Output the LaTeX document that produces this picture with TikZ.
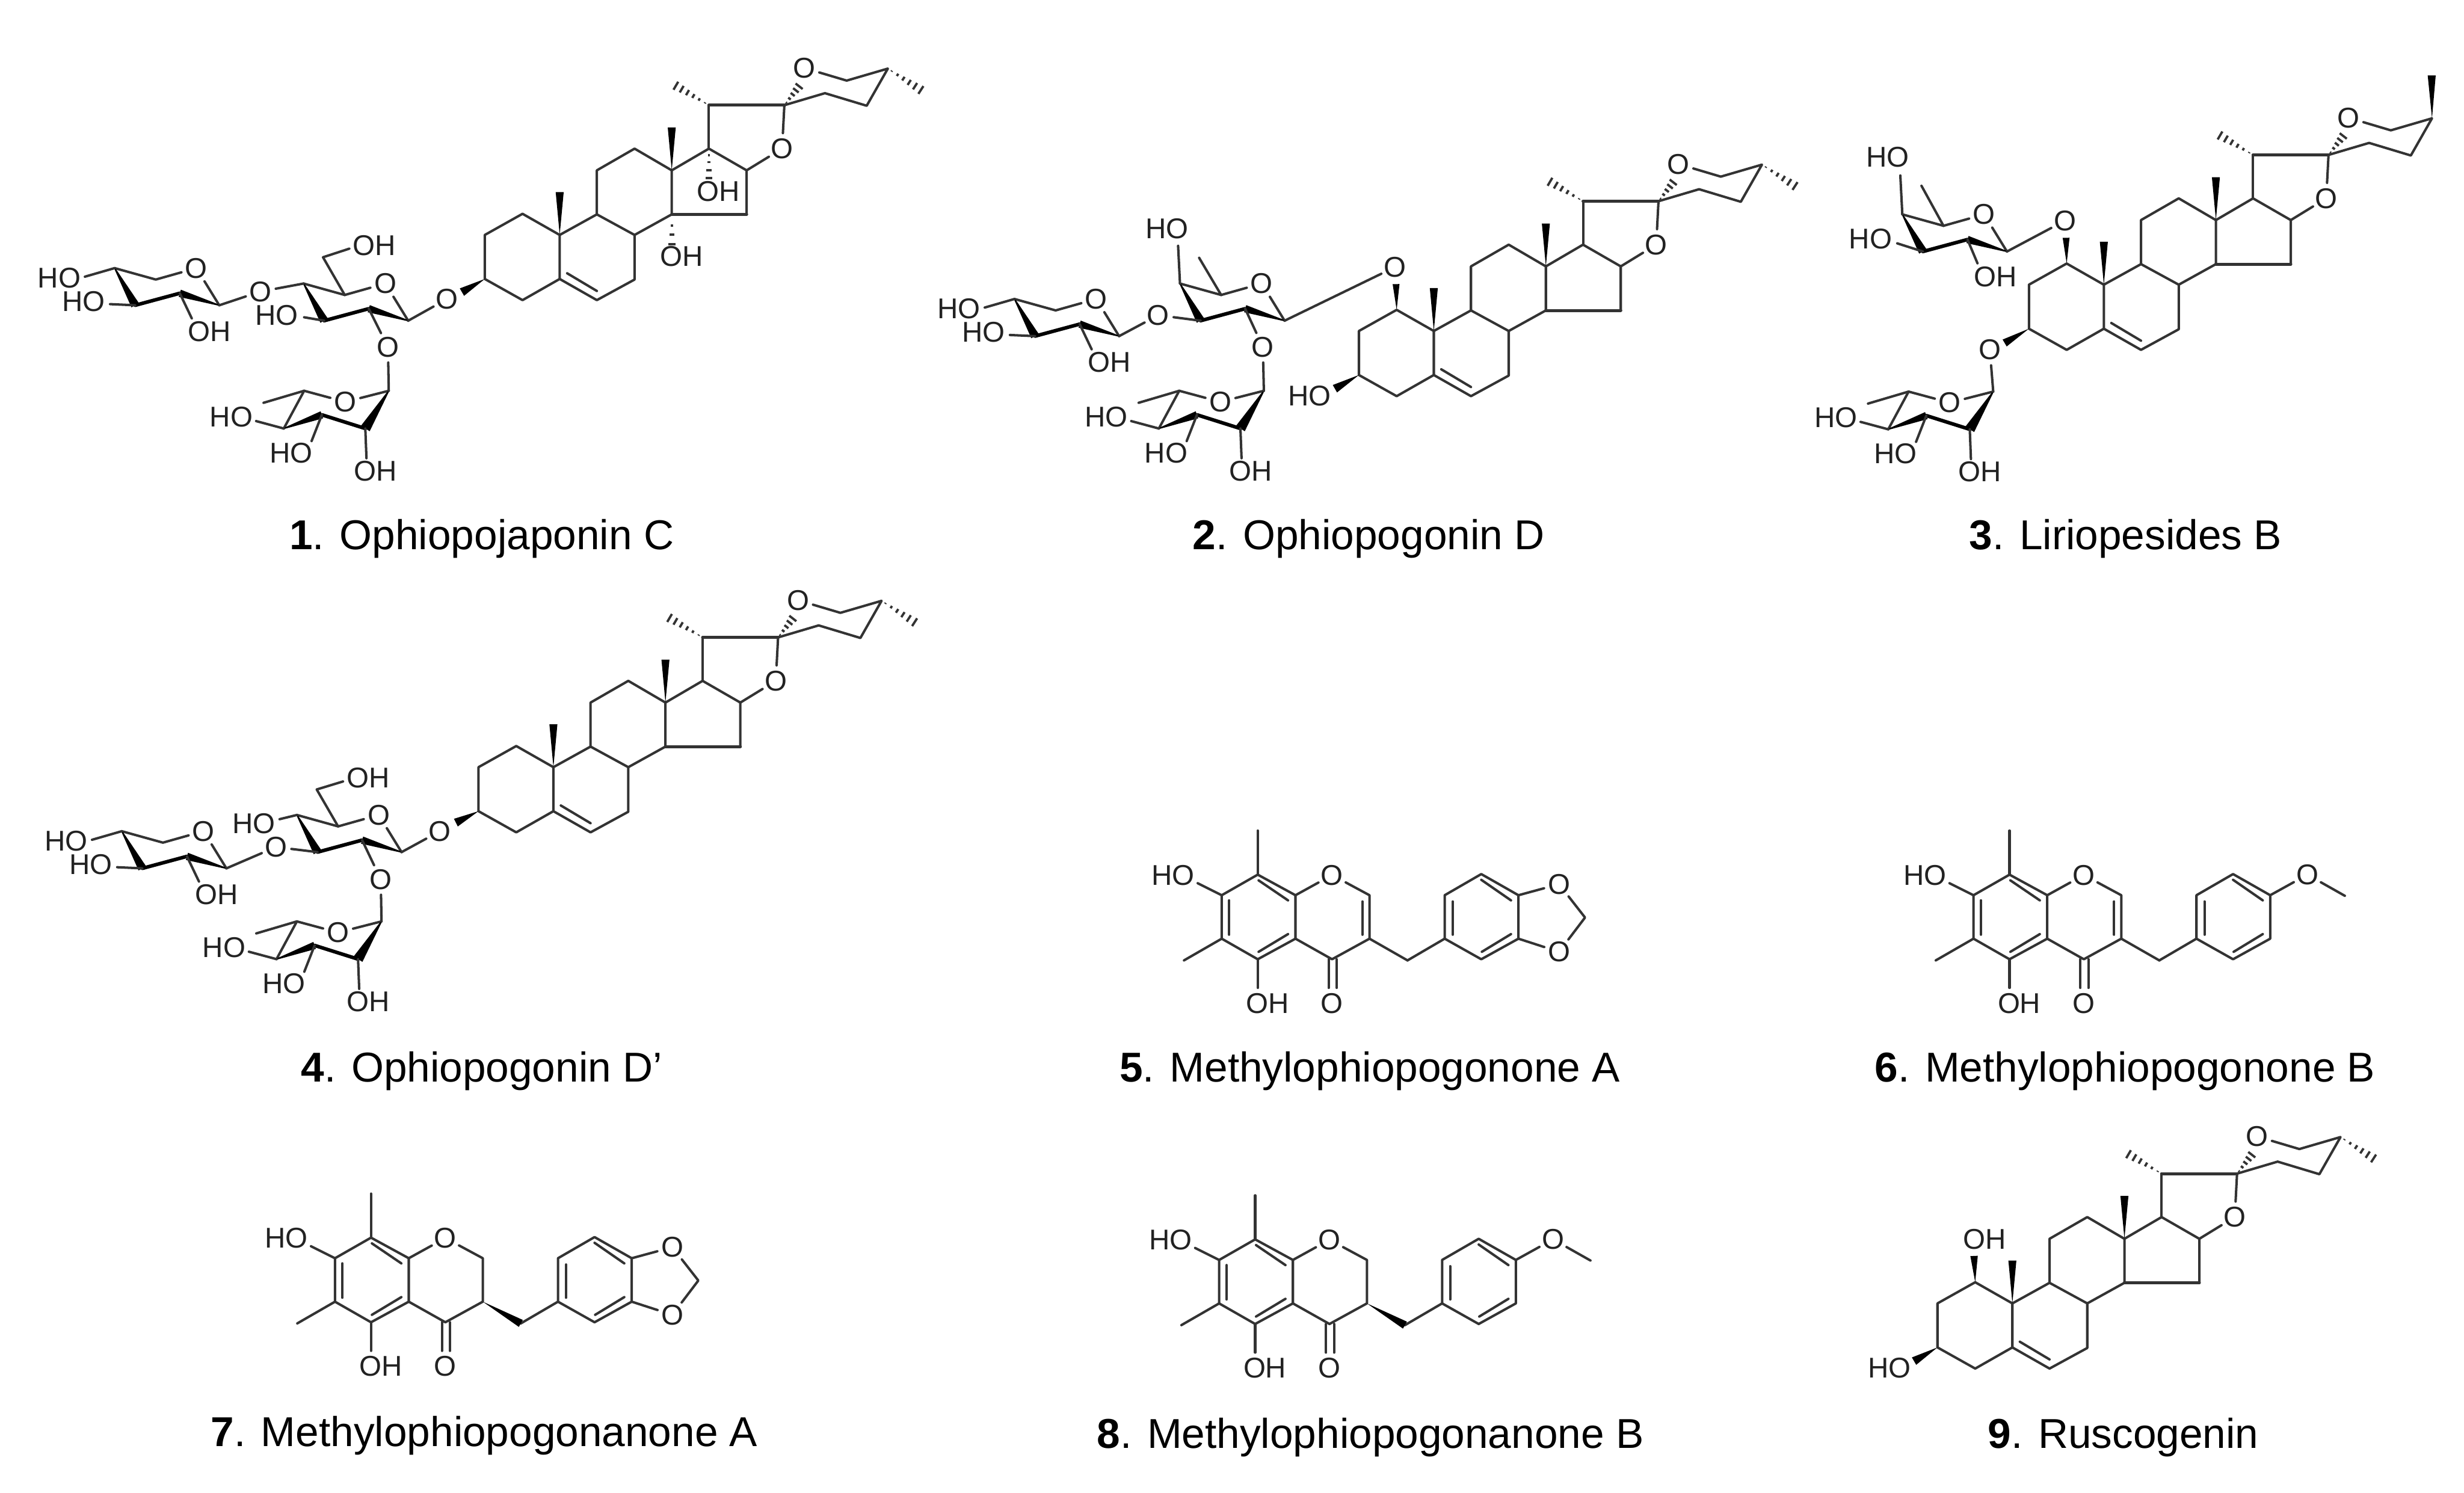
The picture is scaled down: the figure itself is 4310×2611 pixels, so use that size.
\documentclass[tikz,border=0pt]{standalone}
\usepackage{fontspec}
\setmainfont{Liberation Sans}
\usetikzlibrary{calc}
\definecolor{bc}{HTML}{333333}
\definecolor{tc}{HTML}{222222}
\tikzset{
 bond/.style={draw=bc,line width=0.85pt,line cap=round,line join=round},
 hbond/.style={draw=bc,line width=1.05pt,line cap=round,line join=round},
 boldb/.style={draw=black,line width=1.25pt,line cap=round,line join=round},
 wfill/.style={fill=black},
 hashln/.style={draw=bc,line width=0.8pt},
 atom/.style={circle,inner sep=0pt,text=tc,font=\fontsize{10}{12}\selectfont},
 lbl/.style={inner sep=0pt,text=tc,font=\fontsize{10}{12}\selectfont},
 captxt/.style={inner sep=0pt,anchor=base,text=black,font=\fontsize{14.6}{17}\selectfont}
}
\newcommand{\mLab}[4]{\node[lbl] (#1) at (#2,#3) {#4};}
\newcommand{\mAtm}[3]{\node[atom] (#1) at (#2,#3) {O};}
% wedge: narrow at #1, wide at #2, half-width #3
\newcommand{\mWdg}[3]{\fill[wfill] (#1) -- ($(#2)!#3!90:(#1)$) -- ($(#2)!#3!-90:(#1)$) -- cycle;}
% taper: half-width #3 at #1, #4 at #2
\newcommand{\mTpr}[4]{\fill[wfill] ($(#1)!#3!90:(#2)$) -- ($(#2)!#4!-90:(#1)$) -- ($(#2)!#4!90:(#1)$) -- ($(#1)!#3!-90:(#2)$) -- cycle;}
% hashed: from #1 to #2, max half-width #3 (number, pt), list of fractions #4
\newcommand{\mHsh}[4]{\foreach \hh in {#4}{%
  \pgfmathsetmacro{\ww}{\hh*#3}%
  \draw[hashln] ($(#1)!\hh!(#2)!\ww pt!90:(#2)$) -- ($(#1)!\hh!(#2)!\ww pt!-90:(#2)$);}}
% steroid skeleton, origin at C10
\newcommand{\mSter}[3]{%
\begin{scope}[shift={(#2,#3)}]
\foreach \nn/\px/\py in {C10/0/0,C3/-131/77,C2/-131/0,C1/-65/-37,C5/0/77,C4/-65/114,C6/65/114,C7/131/78,C8/131/0,C9/65/-36,C11/65/-113,C12/131/-151,C13/196/-113,C14/196/-36,C15/327/-36,C16/327/-113,C17/261/-151,C20/261/-227,C22/393/-227,C23/464/-248,C24/537/-226,C25/574/-291,C26/502/-270,Me10/0/-75,Me13/196/-188,Me20/193/-267,Me25/642/-247,DbA/13/67,DbB/65/98,Hx/421/-263}{\coordinate (#1-\nn) at (\px,\py);}
\mAtm{#1-O}{389}{-151}
\mAtm{#1-Or}{428}{-292}
\end{scope}
\draw[bond] (#1-C10)--(#1-C1)--(#1-C2)--(#1-C3)--(#1-C4)--(#1-C5)--cycle;
\draw[bond] (#1-C5)--(#1-C6)--(#1-C7)--(#1-C8)--(#1-C9)--(#1-C10);
\draw[bond] (#1-DbA)--(#1-DbB);
\draw[bond] (#1-C9)--(#1-C11)--(#1-C12)--(#1-C13)--(#1-C14)--(#1-C8);
\draw[bond] (#1-C13)--(#1-C17)--(#1-C16)--(#1-C15);
\draw[hbond] (#1-C14)--(#1-C15);
\draw[bond] (#1-C16)--(#1-O)--(#1-C22);
\draw[bond] (#1-C17)--(#1-C20);
\draw[hbond] (#1-C20)--(#1-C22);
\draw[bond] (#1-C22)--(#1-C23)--(#1-C24)--(#1-C25)--(#1-C26)--(#1-Or);
\mWdg{#1-C10}{#1-Me10}{1.4pt}
\mWdg{#1-C13}{#1-Me13}{1.4pt}
\mHsh{#1-C20}{#1-Me20}{1.9}{0.1,0.25,0.4,0.55,0.7,0.85,1}
\mHsh{#1-C22}{#1-Hx}{1.7}{0.12,0.32,0.52,0.72,0.92}
}
% pyranose ring, origin at C4
\newcommand{\mPyr}[3]{%
\begin{scope}[shift={(#2,#3)}]
\foreach \nn/\px/\py in {C4/0/0,C5/72/20,C1/183/65,C2/114/44,C3/36/65}{\coordinate (#1-\nn) at (\px,\py);}
\mAtm{#1-O}{143}{0}
\end{scope}
\draw[bond] (#1-C4)--(#1-C5)--(#1-O)--(#1-C1);
\mTpr{#1-C4}{#1-C3}{0.2pt}{1.5pt}
\draw[boldb] (#1-C3)--(#1-C2);
\mTpr{#1-C2}{#1-C1}{1.3pt}{0.2pt}
}
% terminal xylose
\newcommand{\mXyl}[3]{%
\mPyr{#1}{#2}{#3}
\begin{scope}[shift={(#2,#3)}]
\mLab{#1-HOa}{-97}{17}{HO}
\mLab{#1-HOb}{-54}{58}{HO}
\mLab{#1-OHc}{166}{111}{OH}
\coordinate (#1-ea) at (-52,15);
\coordinate (#1-eb) at (-8,63);
\coordinate (#1-ec) at (135,88);
\end{scope}
\draw[bond] (#1-C4)--(#1-ea);
\draw[bond] (#1-C3)--(#1-eb);
\draw[bond] (#1-C2)--(#1-ec);
}
% rhamnose, origin at C1
\newcommand{\mRha}[3]{%
\begin{scope}[shift={(#2,#3)}]
\foreach \nn/\px/\py in {C1/0/0,C5/-148/0,C4/-183.6/66,C3/-117/42,C2/-41/66,Me/-219/21,ea/-232/53,eb/-135/88,ec/-39/118}{\coordinate (#1-\nn) at (\px,\py);}
\mAtm{#1-O}{-76}{19.4}
\mLab{#1-HOa}{-275.4}{45.4}{HO}
\mLab{#1-HOb}{-171}{109}{HO}
\mLab{#1-OHc}{-23}{140}{OH}
\end{scope}
\draw[bond] (#1-C1)--(#1-O)--(#1-C5)--(#1-Me);
\draw[bond] (#1-C5)--(#1-C4);
\mTpr{#1-C4}{#1-C3}{0.2pt}{1.3pt}
\draw[boldb] (#1-C3)--(#1-C2);
\mTpr{#1-C2}{#1-C1}{1.8pt}{0.2pt}
\draw[bond] (#1-C4)--(#1-ea);
\draw[bond] (#1-C3)--(#1-eb);
\draw[bond] (#1-C2)--(#1-ec);
}
% flavonoid frame, origin at C8
\newcommand{\mFlav}[3]{%
\begin{scope}[shift={(#2,#3)}]
\foreach \nn/\px/\py in {C8/0/0,C7/-63/36,C6/-63/112,C5/0/148,Ca/66/112,Cb/66/36,C2/195.5/36,C3/195.5/112,C4/130/148,Me8/0/-77,Me6/-129/150,CH/262/150,A1/327/112,A2/327/36,A3/391/-1,A4/456/36,A5/456/112,A6/391/148,eh/-105/15,eo/0/198,d1a/1.5/10,d1b/53/45,d2a/-50/45,d2b/-50/105,d3a/1.5/135,d3b/53/104,d4a/183/47,d4b/183/105,k1a/124/148,k1b/124/198,k2a/138/148,k2b/138/198,d5a/341/47,d5b/341/105,d6a/391/9,d6b/443/45,d7a/443/104,d7b/392/135}{\coordinate (#1-\nn) at (\px,\py);}
\mAtm{#1-O1}{130}{0.7}
\mAtm{#1-O4}{130}{225}
\mLab{#1-HO}{-148}{1}{HO}
\mLab{#1-OH}{17}{225}{OH}
\end{scope}
\draw[bond] (#1-C8)--(#1-C7)--(#1-C6)--(#1-C5)--(#1-Ca)--(#1-Cb)--cycle;
\draw[bond] (#1-C8)--(#1-Me8);
\draw[bond] (#1-C6)--(#1-Me6);
\draw[bond] (#1-C7)--(#1-eh);
\draw[bond] (#1-C5)--(#1-eo);
\draw[bond] (#1-Cb)--(#1-O1)--(#1-C2)--(#1-C3)--(#1-C4)--(#1-Ca);
\draw[bond] (#1-d1a)--(#1-d1b);
\draw[bond] (#1-d2a)--(#1-d2b);
\draw[bond] (#1-d3a)--(#1-d3b);
\draw[bond] (#1-k1a)--(#1-k1b);
\draw[bond] (#1-k2a)--(#1-k2b);
\draw[bond] (#1-CH)--(#1-A1);
\draw[bond] (#1-A1)--(#1-A2)--(#1-A3)--(#1-A4)--(#1-A5)--(#1-A6)--cycle;
\draw[bond] (#1-d5a)--(#1-d5b);
\draw[bond] (#1-d6a)--(#1-d6b);
\draw[bond] (#1-d7a)--(#1-d7b);
}
\newcommand{\mIso}[1]{\draw[bond] (#1-d4a)--(#1-d4b); \draw[bond] (#1-C3)--(#1-CH);}
\newcommand{\mAna}[1]{\mWdg{#1-C3}{#1-CH}{1.4pt}}
\newcommand{\mDiox}[3]{%
\begin{scope}[shift={(#2,#3)}]
\mAtm{#1-Oa}{527}{16.7}
\mAtm{#1-Ob}{527}{135}
\coordinate (#1-Cm) at (572.5,75);
\end{scope}
\draw[bond] (#1-A4)--(#1-Oa)--(#1-Cm)--(#1-Ob)--(#1-A5);
}
\newcommand{\mOme}[3]{%
\begin{scope}[shift={(#2,#3)}]
\mAtm{#1-Oa}{521}{0}
\coordinate (#1-Mo) at (586.5,37);
\end{scope}
\draw[bond] (#1-A4)--(#1-Oa)--(#1-Mo);
}
\begin{document}
\begin{tikzpicture}[x=0.2pt,y=-0.2pt]
\useasboundingbox (0,0) rectangle (4310,2611);
\fill[white] (0,0) rectangle (4310,2611);

% ---------- compound 1
\mSter{a}{979}{411}
\mHsh{a-C25}{a-Me25}{1.9}{0.1,0.25,0.4,0.55,0.7,0.85,1}
\mLab{a-OH14}{1192}{448}{OH}
\mLab{a-OH17}{1257}{335}{OH}
\coordinate (a-h14) at (1175,430);
\coordinate (a-h17) at (1240,316);
\mHsh{a-C14}{a-h14}{1.3}{0.35,0.65,0.95}
\mHsh{a-C17}{a-h17}{1.3}{0.2,0.42,0.68,0.92}
\mAtm{a-O3}{782}{523}
\coordinate (a-w3) at (808,511);
\mWdg{a-C3}{a-w3}{1.5pt}
\mXyl{ax}{200.5}{469}
\mAtm{ax-Ol}{455.6}{510}
\mPyr{ag}{531}{496}
\draw[bond] (ax-C1)--(ax-Ol)--(ag-C4);
\draw[bond] (ag-C1)--(a-O3);
\coordinate (ag-CH) at (565,450);
\coordinate (ag-e) at (611,435);
\mLab{ag-OH}{654.6}{429}{OH}
\draw[bond] (ag-C5)--(ag-CH)--(ag-e);
\mLab{ag-HO}{483.7}{551}{HO}
\coordinate (ag-eb) at (532,555);
\draw[bond] (ag-C3)--(ag-eb);
\mAtm{ag-O2}{678.6}{607}
\mRha{ar}{680}{683.6}
\draw[bond] (ag-C2)--(ag-O2)--(ar-C1);

% ---------- compound 2
\mSter{b}{2508}{579}
\mHsh{b-C25}{b-Me25}{1.9}{0.1,0.25,0.4,0.55,0.7,0.85,1}
\mAtm{b-O1}{2440.6}{467}
\coordinate (b-w1) at (2442,497);
\mWdg{b-C1}{b-w1}{1.2pt}
\mLab{b-HO3}{2291}{692.5}{HO}
\coordinate (b-w3) at (2335,680);
\mWdg{b-C3}{b-w3}{1.5pt}
\mXyl{bx}{1774.5}{523}
\mAtm{bx-Ol}{2026}{551.4}
\mPyr{bf}{2064}{496}
\draw[bond] (bx-C1)--(bx-Ol)--(bf-C3);
\draw[bond] (bf-C1)--(b-O1);
\coordinate (bf-Me) at (2097.5,451);
\coordinate (bf-e) at (2060.7,430);
\mLab{bf-HO}{2041}{400}{HO}
\draw[bond] (bf-C5)--(bf-Me);
\draw[bond] (bf-C4)--(bf-e);
\mAtm{bf-O2}{2209}{607}
\mRha{br}{2210.7}{683.6}
\draw[bond] (bf-C2)--(bf-O2)--(br-C1);

% ---------- compound 3
\mSter{c}{3680}{498}
\coordinate (c-MeU) at (4253.5,132);
\mWdg{c-C25}{c-MeU}{1.4pt}
\mAtm{c-O1}{3612}{386}
\coordinate (c-w1) at (3614,416);
\mWdg{c-C1}{c-w1}{1.2pt}
\mAtm{c-O3}{3480.6}{612}
\coordinate (c-w3) at (3506.5,600);
\mWdg{c-C3}{c-w3}{1.4pt}
\mPyr{cf}{3327.5}{375}
\draw[bond] (cf-C1)--(c-O1);
\coordinate (cf-Me) at (3361,325);
\coordinate (cf-e) at (3324,307);
\mLab{cf-HO}{3301.6}{274.5}{HO}
\draw[bond] (cf-C5)--(cf-Me);
\draw[bond] (cf-C4)--(cf-e);
\mLab{cf-HOb}{3272}{418}{HO}
\coordinate (cf-eb) at (3318.6,425.7);
\draw[bond] (cf-C3)--(cf-eb);
\mLab{cf-OHc}{3490}{484}{OH}
\coordinate (cf-ec) at (3459,460.6);
\draw[bond] (cf-C2)--(cf-ec);
\mRha{cr}{3486.5}{685}
\draw[bond] (c-O3)--(cr-C1);

% ---------- compound 4
\mSter{d}{968}{1342}
\mHsh{d-C25}{d-Me25}{1.9}{0.1,0.25,0.4,0.55,0.7,0.85,1}
\mAtm{d-O3}{769.4}{1454}
\coordinate (d-w3) at (797.4,1439);
\mWdg{d-C3}{d-w3}{1.5pt}
\mXyl{dx}{213}{1454}
\mAtm{dx-Ol}{482.7}{1481.7}
\mPyr{dg}{519.4}{1425.6}
\draw[bond] (dx-C1)--(dx-Ol)--(dg-C3);
\draw[bond] (dg-C1)--(d-O3);
\coordinate (dg-CH) at (554,1381);
\coordinate (dg-e) at (600,1367);
\mLab{dg-OH}{644}{1361}{OH}
\draw[bond] (dg-C5)--(dg-CH)--(dg-e);
\mLab{dg-HO}{444}{1441}{HO}
\coordinate (dg-ea) at (489,1433);
\draw[bond] (dg-C4)--(dg-ea);
\mAtm{dg-O2}{666}{1538}
\mRha{dr}{667.3}{1611.8}
\draw[bond] (dg-C2)--(dg-O2)--(dr-C1);

% ---------- compound 5, 6, 7, 8
\mFlav{e}{2200}{1530}\mIso{e}\mDiox{e}{2200}{1530}
\mFlav{f}{3515}{1530}\mIso{f}\mOme{f}{3515}{1530}
\mFlav{g}{649}{2165}\mAna{g}\mDiox{g}{649}{2165}
\mFlav{h}{2195.5}{2168}\mAna{h}\mOme{h}{2195.5}{2168}

% ---------- compound 9
\mSter{i}{3520}{2280}
\mHsh{i-C25}{i-Me25}{1.9}{0.1,0.25,0.4,0.55,0.7,0.85,1}
\mLab{i-OH1}{3471}{2168}{OH}
\coordinate (i-w1) at (3453,2197);
\mWdg{i-C1}{i-w1}{1.3pt}
\mLab{i-HO3}{3305}{2393}{HO}
\coordinate (i-w3) at (3348,2381);
\mWdg{i-C3}{i-w3}{1.5pt}

% ---------- captions
\node[captxt] (cap1) at (842.6,961) {\textbf{1}. Ophiopojaponin C};
\node[captxt] (cap2) at (2394,961) {\textbf{2}. Ophiopogonin D};
\node[captxt] (cap3) at (3718,961) {\textbf{3}. Liriopesides B};
\node[captxt] (cap4) at (842.6,1892) {\textbf{4}. Ophiopogonin D'};
\node[captxt] (cap5) at (2396,1892) {\textbf{5}. Methylophiopogonone A};
\node[captxt] (cap6) at (3717,1892) {\textbf{6}. Methylophiopogonone B};
\node[captxt] (cap7) at (847,2530) {\textbf{7}. Methylophiopogonanone A};
\node[captxt] (cap8) at (2397,2533) {\textbf{8}. Methylophiopogonanone B};
\node[captxt] (cap9) at (3714,2533) {\textbf{9}. Ruscogenin};
\end{tikzpicture}
\end{document}
